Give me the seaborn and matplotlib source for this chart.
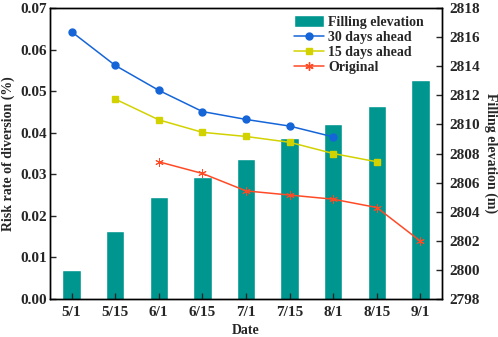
import numpy as np
import pandas as pd
import matplotlib
matplotlib.use("Agg")
import matplotlib.pyplot as plt
from matplotlib.lines import Line2D
from matplotlib.patches import Patch
import seaborn as sns

# data
dates = ["5/1", "5/15", "6/1", "6/15", "7/1", "7/15", "8/1", "8/15", "9/1"]
elevation = [2800.0, 2802.7, 2805.0, 2806.4, 2807.6, 2809.05, 2810.0, 2811.3, 2813.05]
ahead30 = [0.0643, 0.0562, 0.0502, 0.0451, 0.0432, 0.0416, 0.0390, np.nan, np.nan]
ahead15 = [np.nan, 0.0481, 0.0431, 0.0401, 0.0391, 0.0377, 0.0350, 0.0330, np.nan]
original = [np.nan, np.nan, 0.0330, 0.0302, 0.0260, 0.0250, 0.0240, 0.0220, 0.0139]

sns.set_theme(style="ticks")
plt.rcParams["font.family"] = ["Liberation Serif", "DejaVu Serif"]
plt.rcParams["font.weight"] = "bold"
plt.rcParams["axes.labelweight"] = "bold"

bar_col = "#009690"
cols = {"30 days ahead": "#1565d8", "15 days ahead": "#d2d200", "Original": "#ff4a26"}
marks = {"30 days ahead": "o", "15 days ahead": "s", "Original": (6, 2, 0)}
msize = {"30 days ahead": 5, "15 days ahead": 5, "Original": 6}

fig, ax = plt.subplots(figsize=(4.98, 3.37), dpi=100)
fig.subplots_adjust(left=0.1, right=0.888, bottom=0.113, top=0.976)
ax2 = ax.twinx()

# bars on the right axis
bars = pd.DataFrame({"Date": dates, "Elevation": elevation})
sns.barplot(data=bars, x="Date", y="Elevation", order=dates, color=bar_col,
            width=0.42, saturation=1, ax=ax2)
ax2.set_ylim(2798, 2818)
ax2.set_yticks(np.arange(2798, 2819, 2))
ax2.set_ylabel("Filling elevation (m)", rotation=270, labelpad=13, fontsize=10)

# lines on the left axis
rows = []
for name, vals in [("30 days ahead", ahead30), ("15 days ahead", ahead15), ("Original", original)]:
    for i, v in enumerate(vals):
        if not np.isnan(v):
            rows.append({"pos": i, "risk": v, "series": name})
lines = pd.DataFrame(rows)
for name in cols:
    d = lines[lines.series == name]
    sns.lineplot(data=d, x="pos", y="risk", color=cols[name], marker=marks[name],
                 markersize=msize[name], markeredgecolor=cols[name],
                 markeredgewidth=1 if name != "Original" else 0.7, linewidth=1.1, ax=ax)

ax.set_zorder(ax2.get_zorder() + 1)
ax.patch.set_visible(False)
ax.set_ylim(0, 0.07)
ax.set_yticks(np.arange(0, 0.071, 0.01))
ax.set_yticklabels([f"{t:.2f}" for t in np.arange(0, 0.071, 0.01)])
ax.set_xlim(-0.5, len(dates) - 0.5)
ax.set_xticks(range(len(dates)))
ax.set_xticklabels(dates)
ax.set_xlabel("Date", fontsize=10, labelpad=4)
ax.set_ylabel("Risk rate of diversion (%)", fontsize=10, labelpad=4)

for a in (ax, ax2):
    a.tick_params(direction="in", labelsize=11, length=4, width=1, pad=5)
    for s in a.spines.values():
        s.set_linewidth(1.0)
        s.set_color("black")
ax.tick_params(axis="y", pad=2)
ax2.tick_params(axis="x", bottom=False, labelbottom=False)

handles = [Patch(facecolor=bar_col, label="Filling elevation")]
for name in cols:
    handles.append(Line2D([], [], color=cols[name], marker=marks[name], markersize=msize[name],
                          markeredgecolor=cols[name], linewidth=1.1, label=name))
ax.legend(handles=handles, loc="upper right", frameon=False, fontsize=10,
          handlelength=2.2, handleheight=1.0, handletextpad=0.3, labelspacing=0.08,
          borderaxespad=0.2, bbox_to_anchor=(0.975, 1.005))

fig.savefig("out.png", dpi=100)
